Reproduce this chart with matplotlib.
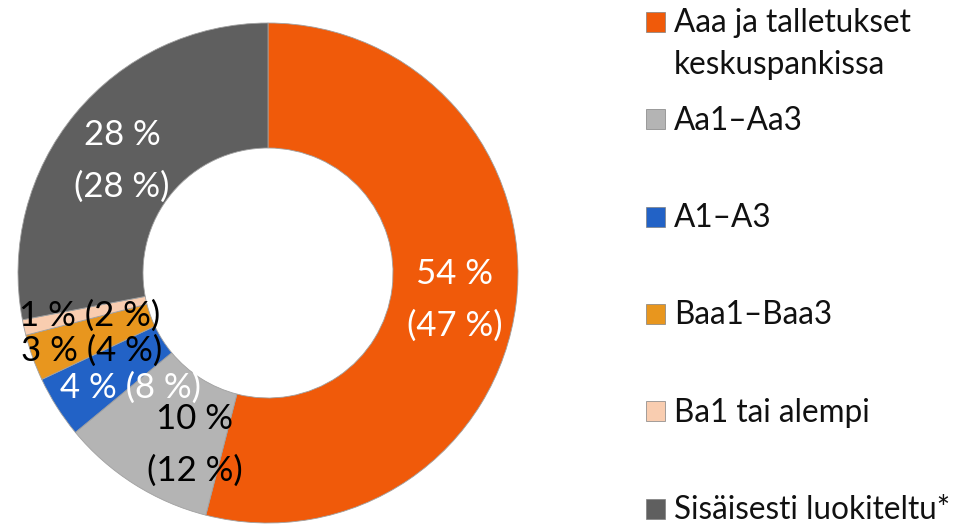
import matplotlib.pyplot as plt
from matplotlib.patches import Rectangle

categories = ['Aaa ja talletukset\nkeskuspankissa', 'Aa1\u2013Aa3', 'A1\u2013A3',
              'Baa1\u2013Baa3', 'Ba1 tai alempi', 'Sis\u00e4isesti luokiteltu*']
shares = [54, 10, 4, 3, 1, 28]
shares_prev = [47, 12, 8, 4, 2, 28]
colors = ['#F05A0A', '#B4B4B4', '#2262C6', '#E8961E', '#F9CDB0', '#5F5F5F']

plt.rcParams['font.family'] = ['Lato', 'DejaVu Sans']

H = 527
fig = plt.figure(figsize=(9.57, 5.27), dpi=100)
ax = fig.add_axes([0, 0, 1, 1])

cx, cy, r = 268, H - 273, 250
ax.pie(shares, colors=colors, startangle=90, counterclock=False,
       radius=r, center=(cx, cy), frame=True,
       wedgeprops=dict(width=r * 0.5, edgecolor='#a0a0a0', linewidth=0.6))
ax.set_xlim(0, 957)
ax.set_ylim(0, H)
ax.set_aspect('equal')
ax.axis('off')

# label placement (pixels, from top-left) and text colour per slice
label_pos = [(455, 300), (195, 445), (131, 388), (92, 351), (90, 316), (122, 161)]
label_col = ['white', 'black', 'white', 'black', 'black', 'white']
two_line = [True, True, False, False, False, True]

for s, p, (lx, ly), c, tl in zip(shares, shares_prev, label_pos, label_col, two_line):
    sep = '\n' if tl else ' '
    ax.text(lx, H - ly, f'{s} %{sep}({p} %)', color=c, fontsize=25,
            ha='center', va='center', linespacing=1.75)

# legend, drawn by hand: square + one text per line
for i, (name, col) in enumerate(zip(categories, colors)):
    yc = 22 + 97.3 * i
    ax.add_patch(Rectangle((646, H - yc - 10), 19, 20, facecolor=col,
                           edgecolor='#808080', linewidth=0.5))
    for k, line in enumerate(name.split('\n')):
        ax.text(674, H - (yc + 10.5 + 42 * k), line, fontsize=22.7,
                va='baseline', ha='left', color='#111111')

fig.savefig('out.png', dpi=100)
